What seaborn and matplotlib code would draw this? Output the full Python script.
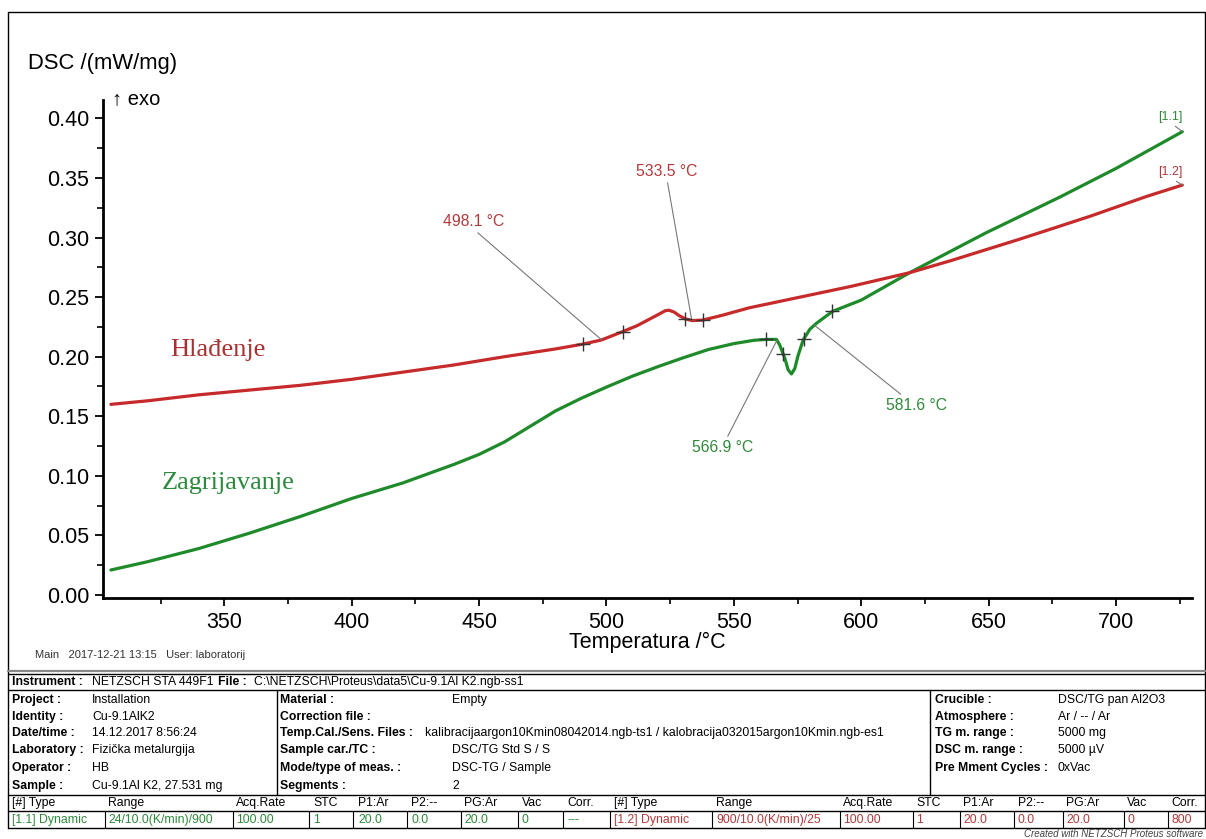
import numpy as np
import pandas as pd
import matplotlib
matplotlib.use("Agg")
import matplotlib.pyplot as plt
from matplotlib.lines import Line2D
from matplotlib.ticker import MultipleLocator, FormatStrFormatter
import seaborn as sns

# ---- DSC data: segment [1.2] cooling (Hlađenje) ----
cool_T = [305.5, 320, 340, 360, 380, 400, 420, 440, 460, 480, 490.6, 498, 506.3,
          512, 516, 520, 523, 524.5, 526.5, 528.5, 530.7, 533.5, 537.7, 545, 556,
          576, 596, 619, 635, 650, 662, 675, 690, 700, 712, 726]
cool_dsc = [0.160, 0.163, 0.168, 0.172, 0.176, 0.181, 0.187, 0.193, 0.200, 0.2065,
            0.2105, 0.2140, 0.2210, 0.2260, 0.2305, 0.2350, 0.2385, 0.2390, 0.2375,
            0.2345, 0.2320, 0.2303, 0.2307, 0.2345, 0.2410, 0.2500, 0.2590, 0.2705,
            0.2805, 0.2905, 0.2985, 0.3075, 0.3180, 0.3255, 0.3345, 0.3440]

# ---- DSC data: segment [1.1] heating (Zagrijavanje) ----
heat_T = [305.5, 320, 340, 360, 380, 400, 420, 440, 450, 460, 470, 480, 490,
          500, 510, 520, 530, 540, 550, 558, 562.8, 566.7, 568, 570, 571.3, 572.6,
          573.9, 575.2, 577.2, 579.8, 582.4, 588.7, 600, 619, 649, 678, 700, 726]
heat_dsc = [0.021, 0.028, 0.039, 0.052, 0.066, 0.081, 0.094, 0.1095, 0.1180, 0.1285,
            0.1415, 0.1545, 0.1650, 0.1745, 0.1835, 0.1915, 0.1990, 0.2060,
            0.2110, 0.2138, 0.2145, 0.2145, 0.2098, 0.1986, 0.1890, 0.1855, 0.1900,
            0.2010, 0.2140, 0.2230, 0.2280, 0.2380, 0.2475, 0.2705, 0.3040, 0.3340,
            0.3580, 0.3888]

# evaluation cursors (+) on each segment
cool_marks_T = [490.6, 506.3, 530.7, 537.7]
heat_marks_T = [562.8, 569.3, 577.4, 588.7]

# characteristic temperatures shown as labels
cool_events = [498.1, 533.5]
heat_events = [566.9, 581.6]

x_ticks = [350, 400, 450, 500, 550, 600, 650, 700]
y_ticks = [0.00, 0.05, 0.10, 0.15, 0.20, 0.25, 0.30, 0.35, 0.40]

# ---- info block ----
info_left = [("Project :", "Installation"), ("Identity :", "Cu-9.1AlK2"),
             ("Date/time :", "14.12.2017 8:56:24"), ("Laboratory :", "Fizička metalurgija"),
             ("Operator :", "HB"), ("Sample :", "Cu-9.1Al K2, 27.531 mg")]
info_mid = [("Material :", "Empty"), ("Correction file :", ""),
            ("Temp.Cal./Sens. Files :", "kalibracijaargon10Kmin08042014.ngb-ts1 / kalobracija032015argon10Kmin.ngb-es1"),
            ("Sample car./TC :", "DSC/TG Std S / S"), ("Mode/type of meas. :", "DSC-TG / Sample"),
            ("Segments :", "2")]
info_right = [("Crucible :", "DSC/TG pan Al2O3"), ("Atmosphere :", "Ar / -- / Ar"),
              ("TG m. range :", "5000 mg"), ("DSC m. range :", "5000 µV"),
              ("Pre Mment Cycles :", "0xVac")]
seg_header = ["[#] Type", "Range", "Acq.Rate", "STC", "P1:Ar", "P2:--", "PG:Ar", "Vac", "Corr."]
seg_1 = ["[1.1] Dynamic", "24/10.0(K/min)/900", "100.00", "1", "20.0", "0.0", "20.0", "0", "---"]
seg_2 = ["[1.2] Dynamic", "900/10.0(K/min)/25", "100.00", "1", "20.0", "0.0", "20.0", "0", "800"]

RED = "#C62a2a"
GREEN = "#1f8a2a"
RED_TXT = "#b23a3a"
GREEN_TXT = "#2f8a3a"
GRAY = "#777777"

sns.set_theme(style="ticks")
plt.rcParams["font.family"] = ["Liberation Sans", "DejaVu Sans"]
plt.rcParams["text.color"] = "black"

W, H = 1206, 839
fig = plt.figure(figsize=(W / 100, H / 100), dpi=100)
fig.patch.set_facecolor("white")


def fx(px):
    return px / W


def fy(py):
    return 1 - py / H


ax = fig.add_axes([fx(103), fy(598), (1192 - 103) / W, (598 - 100) / H])

df = pd.concat([
    pd.DataFrame({"T": heat_T, "DSC": heat_dsc, "seg": "[1.1]"}),
    pd.DataFrame({"T": cool_T, "DSC": cool_dsc, "seg": "[1.2]"}),
])
sns.lineplot(data=df, x="T", y="DSC", hue="seg", palette={"[1.1]": GREEN, "[1.2]": RED},
             estimator=None, sort=False, linewidth=2.3, legend=False, ax=ax)

marks = pd.DataFrame({
    "T": cool_marks_T + heat_marks_T,
    "DSC": list(np.interp(cool_marks_T, cool_T, cool_dsc)) + list(np.interp(heat_marks_T, heat_T, heat_dsc)),
})
sns.scatterplot(data=marks, x="T", y="DSC", marker="+", s=110, color="#333333",
                linewidth=1.0, zorder=5, legend=False, ax=ax)

ax.set_xlim(302.4, 729.8)
ax.set_ylim(-0.0025, 0.4154)
ax.set_xticks(x_ticks)
ax.set_yticks(y_ticks)
ax.xaxis.set_minor_locator(MultipleLocator(25))
ax.yaxis.set_minor_locator(MultipleLocator(0.025))
ax.yaxis.set_major_formatter(FormatStrFormatter("%.2f"))
ax.tick_params(which="major", direction="out", length=6, width=1.3, labelsize=15.5,
               pad=4, color="black", labelcolor="black")
ax.tick_params(which="minor", direction="out", length=4, width=1.2, color="black")
for s in ["top", "right"]:
    ax.spines[s].set_visible(False)
for s in ["left", "bottom"]:
    ax.spines[s].set_linewidth(2.0)
    ax.spines[s].set_color("black")
ax.set_xlabel("")
ax.set_ylabel("")

# axis titles
fig.text(fx(28), fy(63), "DSC /(mW/mg)", fontsize=15.8, va="center", ha="left")
fig.text(fx(112), fy(99), "↑ exo", fontsize=14.5, va="center", ha="left")
fig.text(fx(647.5), fy(642), "Temperatura /°C", fontsize=15.5, va="center", ha="center")

# segment names
fig.text(fx(218), fy(350), "Hlađenje", fontsize=19, family="Liberation Serif",
         color="#a83232", va="center", ha="center")
fig.text(fx(228), fy(483), "Zagrijavanje", fontsize=19, family="Liberation Serif",
         color="#2c8a3c", va="center", ha="center")

# event labels with leader lines
lead = dict(arrowstyle="-", color=GRAY, lw=0.8, shrinkA=0, shrinkB=0)
event_specs = [
    (cool_events[0], cool_T, cool_dsc, (474, 222), (0.5, 0.0), RED_TXT),
    (cool_events[1], cool_T, cool_dsc, (667, 172), (0.5, 0.0), RED_TXT),
    (heat_events[0], heat_T, heat_dsc, (723, 447), (0.55, 1.0), GREEN_TXT),
    (heat_events[1], heat_T, heat_dsc, (917, 405), (0.3, 1.0), GREEN_TXT),
]
for t, xs, ys, (tx, ty), rp, col in event_specs:
    ax.annotate(f"{t:.1f} °C", xy=(t, np.interp(t, xs, ys)), xytext=(tx, H - ty),
                textcoords="figure pixels", ha="center", va="center", fontsize=11.3,
                color=col, arrowprops=dict(lead, relpos=rp))

# segment end tags
for tag, xs, ys, ty, col in [("[1.1]", heat_T, heat_dsc, 117, GREEN_TXT),
                             ("[1.2]", cool_T, cool_dsc, 172, RED_TXT)]:
    ax.annotate(tag, xy=(xs[-1], ys[-1]), xytext=(1170, H - ty), textcoords="figure pixels",
                ha="center", va="center", fontsize=9, color=col,
                arrowprops=dict(lead, relpos=(0.55, 0.0)))


# ---- frame and info table ----
def hline(y, x0=8, x1=1205, lw=1.0, color="black"):
    fig.add_artist(Line2D([fx(x0), fx(x1)], [fy(y), fy(y)], lw=lw, color=color))


def vline(x, y0, y1, lw=1.0, color="black"):
    fig.add_artist(Line2D([fx(x), fx(x)], [fy(y0), fy(y1)], lw=lw, color=color))


vline(8, 12, 828)
vline(1205, 12, 828)
hline(12)
hline(671, lw=1.6, color="#888888")
hline(674)
hline(690)
hline(795)
hline(811)
hline(828)
vline(277, 690, 795)
vline(930, 690, 795)

fs = 8.8
fig.text(fx(35), fy(655), "Main   2017-12-21 13:15   User: laboratorij", fontsize=8,
         color="#333333", va="center")
fig.text(fx(12), fy(682), "Instrument :", fontsize=fs, weight="bold", va="center")
fig.text(fx(92), fy(682), "NETZSCH STA 449F1", fontsize=fs, va="center")
fig.text(fx(218), fy(682), "File :", fontsize=fs, weight="bold", va="center")
fig.text(fx(254), fy(682), "C:\\NETZSCH\\Proteus\\data5\\Cu-9.1Al K2.ngb-ss1", fontsize=fs, va="center")

rows_y = [700, 717, 733, 750, 768, 786]
for (lab, val), y in zip(info_left, rows_y):
    fig.text(fx(12), fy(y), lab, fontsize=fs, weight="bold", va="center")
    fig.text(fx(92), fy(y), val, fontsize=fs, va="center")
for i, ((lab, val), y) in enumerate(zip(info_mid, rows_y)):
    fig.text(fx(280), fy(y), lab, fontsize=fs, weight="bold", va="center")
    fig.text(fx(425 if i == 2 else 452), fy(y), val, fontsize=fs, va="center")
for (lab, val), y in zip(info_right, rows_y):
    fig.text(fx(935), fy(y), lab, fontsize=fs, weight="bold", va="center")
    fig.text(fx(1058), fy(y), val, fontsize=fs, va="center")

col_x1 = [12, 108, 236, 313, 358, 411, 464, 522, 567]
col_x2 = [614, 716, 843, 916, 963, 1018, 1066, 1127, 1171]
seps1 = [105, 233, 309, 353, 407, 461, 518, 563]
seps2 = [610, 712, 840, 913, 960, 1014, 1063, 1124, 1168]
for x, h in zip(col_x1, seg_header):
    fig.text(fx(x), fy(803), h, fontsize=fs, va="center")
for x, h in zip(col_x2, seg_header):
    fig.text(fx(x), fy(803), h, fontsize=fs, va="center")
for x, v in zip(col_x1, seg_1):
    fig.text(fx(x), fy(820), v, fontsize=fs, va="center", color=GREEN_TXT)
for x, v in zip(col_x2, seg_2):
    fig.text(fx(x), fy(820), v, fontsize=fs, va="center", color=RED_TXT)
for x in seps1 + seps2:
    vline(x, 811, 828, lw=0.8)

fig.text(fx(1203), fy(834), "Created with NETZSCH Proteus software", fontsize=7,
         style="italic", color="#444444", va="center", ha="right")

fig.savefig("out.png", dpi=100, facecolor="white")
